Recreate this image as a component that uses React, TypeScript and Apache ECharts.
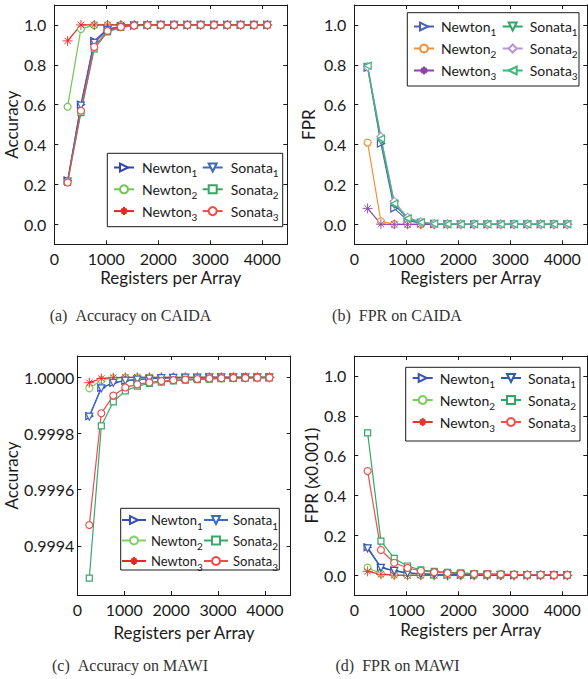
import React, { useEffect, useRef } from "react";
import * as echarts from "echarts";

// Register counts per array (x values shared by every panel)
const registers = [256, 512, 768, 1024, 1280, 1536, 1792, 2048, 2304, 2560, 2816, 3072, 3328, 3584, 3840, 4096];
const xTicks = [0, 1000, 2000, 3000, 4000];
const unitTicks = [0, 0.2, 0.4, 0.6, 0.8, 1.0];
const mawiAccTicks = [0.9994, 0.9996, 0.9998, 1.0];

// (a) Accuracy on CAIDA
const caidaAccNewton1 = [0.22, 0.6, 0.92, 0.98, 0.992, 0.997, 0.999, 1, 1, 1, 1, 1, 1, 1, 1, 1];
const caidaAccSonata1 = [0.215, 0.595, 0.91, 0.975, 0.99, 0.997, 0.999, 1, 1, 1, 1, 1, 1, 1, 1, 1];
const caidaAccNewton2 = [0.59, 0.98, 0.999, 1, 1, 1, 1, 1, 1, 1, 1, 1, 1, 1, 1, 1];
const caidaAccSonata2 = [0.21, 0.56, 0.88, 0.965, 0.988, 0.996, 0.998, 0.999, 1, 1, 1, 1, 1, 1, 1, 1];
const caidaAccNewton3 = [0.92, 1, 1, 1, 1, 1, 1, 1, 1, 1, 1, 1, 1, 1, 1, 1];
const caidaAccSonata3 = [0.21, 0.57, 0.89, 0.97, 0.99, 0.997, 0.999, 1, 1, 1, 1, 1, 1, 1, 1, 1];

// (b) FPR on CAIDA
const caidaFprNewton1 = [0.785, 0.405, 0.08, 0.02, 0.005, 0.002, 0.001, 0, 0, 0, 0, 0, 0, 0, 0, 0];
const caidaFprNewton2 = [0.41, 0.015, 0.001, 0, 0, 0, 0, 0, 0, 0, 0, 0, 0, 0, 0, 0];
const caidaFprNewton3 = [0.08, 0.001, 0, 0, 0, 0, 0, 0, 0, 0, 0, 0, 0, 0, 0, 0];
const caidaFprSonata1 = [0.79, 0.42, 0.1, 0.028, 0.009, 0.003, 0.001, 0, 0, 0, 0, 0, 0, 0, 0, 0];
const caidaFprSonata2 = [0.79, 0.44, 0.115, 0.035, 0.012, 0.004, 0.002, 0.001, 0, 0, 0, 0, 0, 0, 0, 0];
const caidaFprSonata3 = [0.795, 0.43, 0.105, 0.03, 0.01, 0.003, 0.001, 0, 0, 0, 0, 0, 0, 0, 0, 0];

// (c) Accuracy on MAWI
const mawiAccNewton1 = [0.999862, 0.999963, 0.999981, 0.999988, 0.999993, 0.999995, 0.999997, 0.999998, 0.999999, 0.999999, 1, 1, 1, 1, 1, 1];
const mawiAccSonata1 = [0.99986, 0.999961, 0.99998, 0.999988, 0.999992, 0.999995, 0.999997, 0.999998, 0.999999, 0.999999, 1, 1, 1, 1, 1, 1];
const mawiAccNewton2 = [0.999961, 0.99999, 0.999997, 0.999999, 1, 1, 1, 1, 1, 1, 1, 1, 1, 1, 1, 1];
const mawiAccSonata2 = [0.999285, 0.999827, 0.999913, 0.999952, 0.999969, 0.999978, 0.999983, 0.999987, 0.99999, 0.999992, 0.999994, 0.999995, 0.999996, 0.999997, 0.999998, 0.999998];
const mawiAccNewton3 = [0.999981, 0.999996, 0.999999, 1, 1, 1, 1, 1, 1, 1, 1, 1, 1, 1, 1, 1];
const mawiAccSonata3 = [0.999474, 0.999872, 0.999935, 0.999964, 0.999975, 0.999982, 0.999987, 0.99999, 0.999992, 0.999994, 0.999996, 0.999997, 0.999998, 0.999998, 0.999999, 0.999999];

// (d) FPR on MAWI (x0.001)
const mawiFprNewton1 = [0.141, 0.04, 0.024, 0.012, 0.008, 0.005, 0.004, 0.003, 0.002, 0.002, 0.002, 0.001, 0.001, 0.001, 0.001, 0.001];
const mawiFprSonata1 = [0.135, 0.038, 0.022, 0.011, 0.007, 0.005, 0.004, 0.003, 0.002, 0.002, 0.001, 0.001, 0.001, 0.001, 0.001, 0.001];
const mawiFprNewton2 = [0.039, 0.008, 0.003, 0.001, 0.001, 0, 0, 0, 0, 0, 0, 0, 0, 0, 0, 0];
const mawiFprSonata2 = [0.715, 0.172, 0.085, 0.047, 0.027, 0.02, 0.015, 0.012, 0.009, 0.007, 0.006, 0.005, 0.004, 0.004, 0.003, 0.003];
const mawiFprNewton3 = [0.02, 0.005, 0.001, 0, 0, 0, 0, 0, 0, 0, 0, 0, 0, 0, 0, 0];
const mawiFprSonata3 = [0.523, 0.127, 0.063, 0.037, 0.023, 0.016, 0.012, 0.009, 0.007, 0.006, 0.005, 0.004, 0.003, 0.003, 0.002, 0.002];

const SANS = "Lato";
const SERIF = "Liberation Serif";
const INK = "#1a1a1a";
// eight-spoke asterisk marker
const STAR = "path://M5,0L5,10M0,5L10,5M1.8,1.8L8.2,8.2M1.8,8.2L8.2,1.8";

type Line = { name: string; sub: string; data: number[]; color: string; symbol: string; rotate?: number; size?: number };
type Panel = {
  id: string;
  grid: { left: number; top: number; width: number; height: number };
  xMax: number;
  yMin: number;
  yMax: number;
  yTicks: number[];
  digits: number;
  yName: string;
  yNameGap: number;
  xNameGap: number;
  caption: string;
  captionX: number;
  captionY: number;
  legend: { box: number[]; cols: number[]; top: number; iconW: number; textPad: number; fontSize: number; gap: number };
  lines: Line[];
};

const panels: Panel[] = [
  {
    id: "a",
    grid: { left: 54.3, top: 5, width: 233, height: 239.3 },
    xMax: 4480, yMin: -0.1, yMax: 1.1, yTicks: unitTicks, digits: 1,
    yName: "Accuracy", yNameGap: 30, xNameGap: 24.5,
    caption: "(a)\u2002Accuracy on CAIDA", captionX: 130.5, captionY: 315,
    legend: { box: [107.3, 153.3, 175.4, 73.4], cols: [113, 201.7], top: 160.5, iconW: 20, textPad: 3, fontSize: 14, gap: 4.3 },
    lines: [
      { name: "Newton", sub: "1", data: caidaAccNewton1, color: "#3445a8", symbol: "triangle", rotate: -90 },
      { name: "Newton", sub: "2", data: caidaAccNewton2, color: "#74c455", symbol: "circle" },
      { name: "Newton", sub: "3", data: caidaAccNewton3, color: "#ec2424", symbol: STAR, size: 10 },
      { name: "Sonata", sub: "1", data: caidaAccSonata1, color: "#3f67bd", symbol: "triangle", rotate: 180 },
      { name: "Sonata", sub: "2", data: caidaAccSonata2, color: "#36a763", symbol: "rect", size: 6 },
      { name: "Sonata", sub: "3", data: caidaAccSonata3, color: "#ef4d4d", symbol: "circle" },
    ],
  },
  {
    id: "b",
    grid: { left: 354.3, top: 5, width: 233, height: 239.3 },
    xMax: 4480, yMin: -0.1, yMax: 1.1, yTicks: unitTicks, digits: 1,
    yName: "FPR", yNameGap: 37.5, xNameGap: 24.5,
    caption: "(b)\u2002FPR on CAIDA", captionX: 397, captionY: 315,
    legend: { box: [407.3, 12.7, 171.7, 73.3], cols: [413, 501.7], top: 19.5, iconW: 20, textPad: 2, fontSize: 14, gap: 4.5 },
    lines: [
      { name: "Newton", sub: "1", data: caidaFprNewton1, color: "#4a5fb5", symbol: "triangle", rotate: -90 },
      { name: "Newton", sub: "2", data: caidaFprNewton2, color: "#f5903a", symbol: "circle" },
      { name: "Newton", sub: "3", data: caidaFprNewton3, color: "#8b44a8", symbol: STAR, size: 10 },
      { name: "Sonata", sub: "1", data: caidaFprSonata1, color: "#2fa866", symbol: "triangle", rotate: 180 },
      { name: "Sonata", sub: "2", data: caidaFprSonata2, color: "#b596d6", symbol: "diamond", size: 8 },
      { name: "Sonata", sub: "3", data: caidaFprSonata3, color: "#3db777", symbol: "triangle", rotate: 90 },
    ],
  },
  {
    id: "c",
    grid: { left: 77.3, top: 356, width: 213.4, height: 239 },
    xMax: 4550, yMin: 0.999225, yMax: 1.000076, yTicks: mawiAccTicks, digits: 4,
    yName: "Accuracy", yNameGap: 52.5, xNameGap: 28.5,
    caption: "(c)\u2002Accuracy on MAWI", captionX: 130, captionY: 665,
    legend: { box: [120.7, 508.3, 158.6, 61.7], cols: [121, 203], top: 513.5, iconW: 24, textPad: 0, fontSize: 13, gap: 3.5 },
    lines: [
      { name: "Newton", sub: "1", data: mawiAccNewton1, color: "#3450b0", symbol: "triangle", rotate: -90 },
      { name: "Newton", sub: "2", data: mawiAccNewton2, color: "#86cf5f", symbol: "circle" },
      { name: "Newton", sub: "3", data: mawiAccNewton3, color: "#ec2424", symbol: STAR, size: 10 },
      { name: "Sonata", sub: "1", data: mawiAccSonata1, color: "#3d6bc0", symbol: "triangle", rotate: 180 },
      { name: "Sonata", sub: "2", data: mawiAccSonata2, color: "#36aa6a", symbol: "rect", size: 6 },
      { name: "Sonata", sub: "3", data: mawiAccSonata3, color: "#ef4b4b", symbol: "circle" },
    ],
  },
  {
    id: "d",
    grid: { left: 354.3, top: 356, width: 233, height: 239.3 },
    xMax: 4480, yMin: -0.1, yMax: 1.1, yTicks: unitTicks, digits: 1,
    yName: "FPR (x0.001)", yNameGap: 32.5, xNameGap: 26,
    caption: "(d)\u2002FPR on MAWI", captionX: 397.5, captionY: 665,
    legend: { box: [405.7, 367.3, 174.3, 73.7], cols: [411.7, 500], top: 371, iconW: 20, textPad: 2, fontSize: 14, gap: 4.5 },
    lines: [
      { name: "Newton", sub: "1", data: mawiFprNewton1, color: "#3a55b5", symbol: "triangle", rotate: -90 },
      { name: "Newton", sub: "2", data: mawiFprNewton2, color: "#7ccc5a", symbol: "circle" },
      { name: "Newton", sub: "3", data: mawiFprNewton3, color: "#ee3030", symbol: STAR, size: 10 },
      { name: "Sonata", sub: "1", data: mawiFprSonata1, color: "#2f5aa8", symbol: "triangle", rotate: 180 },
      { name: "Sonata", sub: "2", data: mawiFprSonata2, color: "#2fa860", symbol: "rect", size: 6 },
      { name: "Sonata", sub: "3", data: mawiFprSonata3, color: "#f04f4f", symbol: "circle" },
    ],
  },
];

function buildOption() {
  const grid: any[] = [];
  const xAxis: any[] = [];
  const yAxis: any[] = [];
  const series: any[] = [];
  const legend: any[] = [];
  const graphic: any[] = [];

  const axisLine = { show: true, onZero: false, lineStyle: { color: INK, width: 1 } };
  const tick = (values: number[]) => ({ show: true, inside: true, length: 4, customValues: values, lineStyle: { color: INK, width: 1 } });

  panels.forEach((p, i) => {
    grid.push({ left: p.grid.left, top: p.grid.top, width: p.grid.width, height: p.grid.height, containLabel: false });
    const xBase = { type: "value", gridIndex: i, min: 0, max: p.xMax, splitLine: { show: false }, axisLine };
    xAxis.push({
      ...xBase, position: "bottom",
      axisTick: tick(xTicks),
      axisLabel: { customValues: xTicks, margin: 6, fontFamily: SANS, fontSize: 16, color: INK, formatter: (v: number) => String(v) },
      name: "Registers per Array", nameLocation: "middle", nameGap: p.xNameGap,
      nameTextStyle: { fontFamily: SANS, fontSize: 17, color: INK },
    });
    xAxis.push({ ...xBase, position: "top", axisTick: tick(xTicks), axisLabel: { show: false } });
    const yBase = { type: "value", gridIndex: i, min: p.yMin, max: p.yMax, splitLine: { show: false }, axisLine };
    yAxis.push({
      ...yBase, position: "left",
      axisTick: tick(p.yTicks),
      axisLabel: {
        customValues: p.yTicks, margin: p.digits > 1 ? 3 : 8, fontFamily: SANS, fontSize: 16, color: INK,
        formatter: (v: number) => v.toFixed(p.digits),
      },
      name: p.yName, nameLocation: "middle", nameGap: p.yNameGap,
      nameTextStyle: { fontFamily: SANS, fontSize: 17, color: INK },
    });
    yAxis.push({ ...yBase, position: "right", axisTick: tick(p.yTicks), axisLabel: { show: false } });

    const names: string[] = [];
    p.lines.forEach((l) => {
      const key = `${p.id}/${l.name}/${l.sub}`;
      names.push(key);
      series.push({
        type: "line",
        name: key,
        xAxisIndex: i * 2,
        yAxisIndex: i * 2,
        data: registers.map((x, k) => [x, l.data[k]]),
        symbol: l.symbol,
        symbolRotate: l.rotate || 0,
        symbolSize: l.size || 7,
        showSymbol: true,
        lineStyle: { color: l.color, width: 1.2 },
        itemStyle: { color: "#fff", borderColor: l.color, borderWidth: l.symbol === STAR ? 0.9 : 1.2 },
        emphasis: { disabled: true },
      });
    });

    const lg = p.legend;
    const rich = {
      n: { fontFamily: SANS, fontSize: lg.fontSize, lineHeight: 21, color: INK, padding: [0, 0, 0, lg.textPad] },
      s: { fontFamily: SANS, fontSize: 10, lineHeight: 14, verticalAlign: "bottom", color: INK },
    };
    [names.slice(0, 3), names.slice(3)].forEach((col, c) => {
      legend.push({
        data: col,
        orient: "vertical",
        left: lg.cols[c],
        top: lg.top,
        padding: 0,
        itemGap: lg.gap,
        itemWidth: lg.iconW,
        itemHeight: 10,
        selectedMode: false,
        textStyle: { rich },
        formatter: (name: string) => {
          const parts = name.split("/");
          return `{n|${parts[1]}}{s|${parts[2]}}`;
        },
        z: 5,
      });
    });

    graphic.push({
      type: "rect",
      z: 4,
      shape: { x: lg.box[0], y: lg.box[1], width: lg.box[2], height: lg.box[3] },
      style: { fill: "#fff", stroke: INK, lineWidth: 1 },
    });
    graphic.push({
      type: "text",
      x: p.captionX,
      y: p.captionY,
      style: { text: p.caption, fontFamily: SERIF, fontSize: 16, fill: "#333", align: "center", verticalAlign: "middle" },
    });
  });

  return { animation: false, backgroundColor: "#fff", grid, xAxis, yAxis, series, legend, graphic };
}

export default function App() {
  const ref = useRef<HTMLDivElement>(null);
  useEffect(() => {
    if (!ref.current) return;
    const chart = echarts.init(ref.current, undefined, { renderer: "svg" });
    chart.setOption(buildOption() as any);
    return () => chart.dispose();
  }, []);
  return <div ref={ref} style={{ position: "fixed", left: 0, top: 0, width: 588, height: 679, background: "#fff" }} />;
}
